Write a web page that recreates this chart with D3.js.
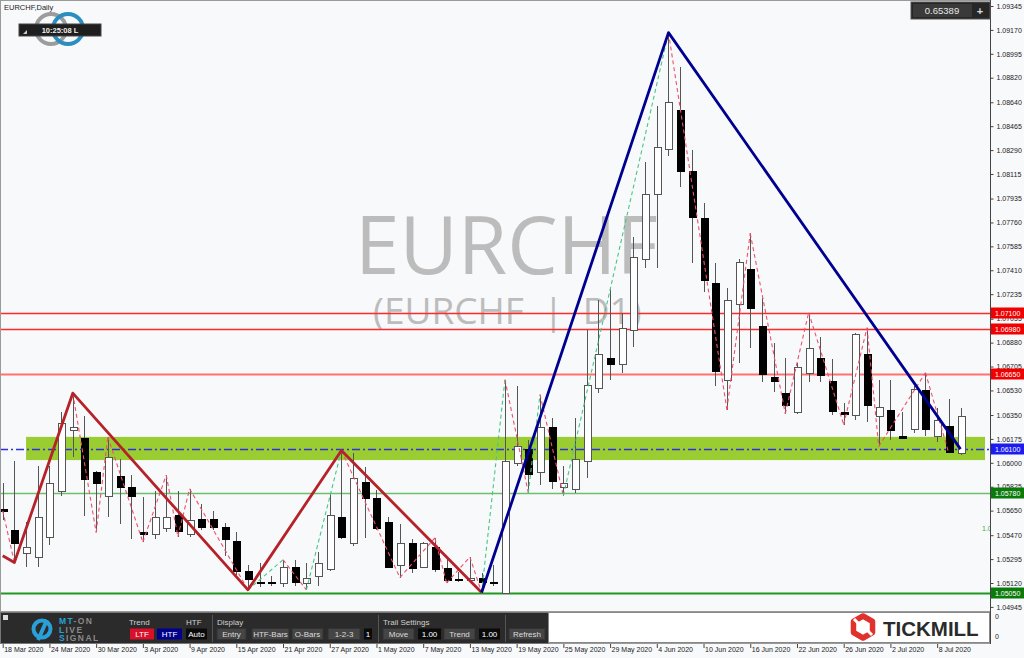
<!DOCTYPE html>
<html><head><meta charset="utf-8">
<script src="https://cdn.jsdelivr.net/npm/d3@7"></script>
<style>
html,body{margin:0;padding:0;background:#f8f9fb;overflow:hidden;}
svg{display:block;font-family:"Liberation Sans",Arial,sans-serif;}
</style></head><body>
<svg id="c" width="1024" height="658"></svg>
<script>
// ---------------- DATA ----------------
const symbol = "EURCHF";
const chartTitle = "EURCHF,Daily";
const watermarkSub = "(EURCHF  |  D1)";
const clockText = "10:25:08 L";
const topValue = "0.65389";
const firstDay = new Date(2020, 2, 18), lastDay = new Date(2020, 6, 10);

const opens = [1.0566,1.0551,1.0534,1.0531,1.0546,1.0579,1.0624,1.0618,1.0593,1.0576,
1.0590,1.0582,1.0549,1.0548,1.0552,1.0562,1.0548,1.0559,1.0559,1.0553,
1.0543,1.0521,1.0513,1.0513,1.0512,1.0524,1.0512,1.0517,1.0522,1.0560,
1.0541,1.0586,1.0574,1.0557,1.0525,1.0541,1.0524,1.0538,1.0523,1.0515,
1.0514,1.0516,1.0513,1.0505,1.0600,1.0610,1.0593,1.0626,1.0582,1.0581,
1.0601,1.0655,1.0677,1.0672,1.0697,1.0749,1.0797,1.0830,1.0858,1.0814,
1.0779,1.0732,1.0661,1.0716,1.0742,1.0700,1.0663,1.0651,1.0637,1.0666,
1.0677,1.0660,1.0637,1.0635,1.0680,1.0634,1.0639,1.0620,1.0625,1.0653,
1.0620,1.0627,1.0607];
const highs = [1.0585,1.0601,1.0557,1.0598,1.0598,1.0637,1.0651,1.0634,1.0594,1.0619,
1.0603,1.0591,1.0575,1.0579,1.0591,1.0579,1.0581,1.0570,1.0565,1.0556,
1.0549,1.0525,1.0527,1.0517,1.0529,1.0529,1.0527,1.0535,1.0578,1.0609,
1.0607,1.0597,1.0580,1.0560,1.0555,1.0544,1.0542,1.0545,1.0530,1.0520,
1.0531,1.0519,1.0525,1.0661,1.0656,1.0617,1.0650,1.0633,1.0598,1.0633,
1.0697,1.0719,1.0727,1.0710,1.0765,1.0820,1.0861,1.0915,1.0890,1.0829,
1.0790,1.0746,1.0728,1.0749,1.0768,1.0721,1.0688,1.0677,1.0673,1.0710,
1.0692,1.0676,1.0644,1.0695,1.0699,1.0661,1.0661,1.0637,1.0656,1.0666,
1.0640,1.0647,1.0640];
const lows = [1.0558,1.0527,1.0524,1.0524,1.0540,1.0576,1.0604,1.0561,1.0549,1.0560,
1.0555,1.0544,1.0542,1.0544,1.0549,1.0546,1.0546,1.0551,1.0551,1.0532,
1.0518,1.0507,1.0509,1.0510,1.0509,1.0510,1.0507,1.0510,1.0521,1.0544,
1.0539,1.0545,1.0551,1.0523,1.0516,1.0519,1.0523,1.0520,1.0512,1.0513,
1.0513,1.0505,1.0510,1.0504,1.0598,1.0578,1.0584,1.0581,1.0576,1.0578,
1.0589,1.0651,1.0661,1.0666,1.0685,1.0743,1.0743,1.0825,1.0802,1.0746,
1.0725,1.0656,1.0639,1.0673,1.0684,1.0659,1.0652,1.0636,1.0636,1.0659,
1.0659,1.0635,1.0628,1.0631,1.0630,1.0612,1.0617,1.0618,1.0622,1.0620,
1.0615,1.0607,1.0606];
const closes = [1.0565,1.0541,1.0538,1.0560,1.0585,1.0629,1.0626,1.0588,1.0585,1.0604,
1.0582,1.0576,1.0548,1.0560,1.0560,1.0550,1.0558,1.0553,1.0553,1.0544,
1.0521,1.0515,1.0512,1.0512,1.0524,1.0513,1.0516,1.0527,1.0562,1.0546,
1.0589,1.0574,1.0552,1.0524,1.0541,1.0523,1.0541,1.0522,1.0514,1.0514,
1.0516,1.0513,1.0512,1.0601,1.0612,1.0592,1.0626,1.0587,1.0585,1.0603,
1.0657,1.0680,1.0672,1.0699,1.0751,1.0797,1.0831,1.0864,1.0814,1.0780,
1.0734,1.0667,1.0719,1.0747,1.0713,1.0665,1.0660,1.0642,1.0670,1.0684,
1.0664,1.0638,1.0636,1.0694,1.0642,1.0641,1.0624,1.0618,1.0654,1.0625,
1.0631,1.0608,1.0634];

const priceTicks = [1.09345,1.09170,1.08995,1.08820,1.08640,1.08465,1.08290,1.08115,1.07935,
1.07760,1.07585,1.07410,1.07235,1.07055,1.06880,1.06705,1.06530,1.06350,1.06175,1.06000,
1.05825,1.05650,1.05470,1.05295,1.05120,1.04945];
const dateLabelStep = 4;

const resistanceLevels = [1.07100, 1.06980, 1.06650];
const pivotLevel = 1.06100;
const supportLevels = [1.05780, 1.05050];
const zonePrices = [1.0602, 1.0619];
const zoneBars = [2, 84.1];

const majorRedBars = [0, 1, 6, 21, 29, 41];
const majorRedPrices = [1.0532, 1.0527, 1.0651, 1.0507, 1.0609, 1.0505];
const majorBlueBars = [41, 57, 82];
const majorBluePrices = [1.0505, 1.0915, 1.0610];
const minorBars = [0,1,6,8,9,12,14,15,16,21,24,26,29,34,37,38,40,41,43,45,46,48,57,62,64,67,69,72,74,75,79,81];
const minorPrices = [1.0565,1.0527,1.0651,1.0549,1.0619,1.0542,1.0591,1.0546,1.0581,1.0507,1.0529,1.0507,1.0609,1.0516,1.0545,1.0512,1.0531,1.0505,1.0661,1.0578,1.0650,1.0576,1.0915,1.0639,1.0768,1.0636,1.0710,1.0628,1.0699,1.0612,1.0666,1.0607];

const panelLabels = [["Trend",129],["HTF",186],["Display",217],["Trail Settings",383]];
const panelButtons = [
 ["LTF",130,154,"red"],["HTF",157,182,"blue"],["Auto",186,207,"black"],
 ["Entry",217,246,"gray"],["HTF-Bars",252,289,"gray"],["O-Bars",292,323,"gray"],
 ["1-2-3",328,360,"gray"],["1",364,372,"black"],["Move",383,414,"gray"],
 ["1.00",418,441,"black"],["Trend",444,475,"gray"],["1.00",479,500,"black"],["Refresh",509,545,"gray"]];

// ---------------- DRAW ----------------
const dates = d3.timeDay.range(firstDay, d3.timeDay.offset(lastDay, 1)).filter(d => d.getDay() !== 0 && d.getDay() !== 6);
const candles = dates.map((d, i) => ({i, d, o: opens[i], h: highs[i], l: lows[i], c: closes[i]}));

const svg = d3.select("#c");
const W = 1024, H = 658, axisX = 990, mainBottom = 611;
const xS = d3.scaleLinear().domain([0, 82]).range([2.7, 960.5]);
const yS = d3.scaleLinear().domain([1.04945, 1.09345]).range([606.9, 6.0]);

svg.append("rect").attr("width", W).attr("height", H).attr("fill", "#f8f9fb");
const defs = svg.append("defs");
defs.append("clipPath").attr("id", "mainClip").append("rect").attr("x", 1).attr("y", 1).attr("width", axisX - 1).attr("height", mainBottom - 1);

const main = svg.append("g").attr("clip-path", "url(#mainClip)");

// watermark (one text element, two lines)
const wm = main.append("text").attr("font-family", "'Open Sans',sans-serif").attr("fill", "#bcbcbc").style("white-space", "pre");
wm.append("tspan").attr("x", 355).attr("y", 274).attr("font-size", 80).text(symbol);
wm.append("tspan").attr("x", 373).attr("y", 324).attr("font-size", 37).text(watermarkSub);

// zone
main.append("rect").attr("x", xS(zoneBars[0])).attr("width", xS(zoneBars[1]) - xS(zoneBars[0]))
  .attr("y", yS(zonePrices[1])).attr("height", yS(zonePrices[0]) - yS(zonePrices[1]))
  .attr("fill", "#9acd32");

// levels
const lvl = main.append("g");
resistanceLevels.forEach((p, k) => {
  const yy = Math.round(yS(p)) + 0.5;
  lvl.append("line").attr("x1", 0).attr("x2", axisX).attr("y1", yy).attr("y2", yy)
    .attr("stroke", k === 2 ? "#ff7070" : "#ff2a2a").attr("stroke-width", k === 2 ? 2 : 1.6);
});
{
  const yy = Math.round(yS(pivotLevel)) + 0.5;
  lvl.append("line").attr("x1", 0).attr("x2", axisX).attr("y1", yy).attr("y2", yy)
    .attr("stroke", "#2f2fe0").attr("stroke-width", 1.3).attr("stroke-dasharray", "8,3,2,3");
}
supportLevels.forEach((p, k) => {
  const yy = Math.round(yS(p)) + 0.5;
  lvl.append("line").attr("x1", 0).attr("x2", axisX).attr("y1", yy).attr("y2", yy)
    .attr("stroke", k === 0 ? "#6cbf6c" : "#1f9a1f").attr("stroke-width", k === 0 ? 1.6 : 2.2);
});

// candles
const cg = main.append("g").attr("shape-rendering", "crispEdges");
const bw = 7;
candles.forEach(c => {
  const cx = Math.round(xS(c.i)) + 0.5;
  const bull = c.c >= c.o;
  cg.append("line").attr("x1", cx).attr("x2", cx).attr("y1", yS(c.h)).attr("y2", yS(c.l))
    .attr("stroke", "#555").attr("stroke-width", 1);
  const top = Math.round(yS(Math.max(c.o, c.c))), bot = Math.round(yS(Math.min(c.o, c.c)));
  const hgt = Math.max(bot - top, 1);
  cg.append("rect").attr("x", cx - bw / 2).attr("y", top + 0.5).attr("width", bw).attr("height", hgt)
    .attr("fill", bull ? "#ffffff" : "#000000").attr("stroke", bull ? "#555" : "#000").attr("stroke-width", 1);
});

// minor zigzag (dashed)
const majorUp = [[1, 6], [21, 29], [41, 57]];
for (let k = 0; k < minorBars.length - 1; k++) {
  const a = minorBars[k], b = minorBars[k + 1];
  const up = minorPrices[k + 1] > minorPrices[k];
  const inUp = majorUp.some(r => a >= r[0] && b <= r[1]);
  main.append("line").attr("x1", xS(a)).attr("y1", yS(minorPrices[k])).attr("x2", xS(b)).attr("y2", yS(minorPrices[k + 1]))
    .attr("stroke", up && inUp ? "#45c882" : "#f0506a").attr("stroke-width", 1.1).attr("stroke-dasharray", "4,3");
}

// major zigzags
const line = d3.line().x(d => xS(d[0])).y(d => yS(d[1]));
main.append("path").attr("d", line(majorRedBars.map((b, k) => [b, majorRedPrices[k]])))
  .attr("fill", "none").attr("stroke", "#b5222a").attr("stroke-width", 2.8).attr("stroke-linejoin", "round");
main.append("path").attr("d", line(majorBlueBars.map((b, k) => [b, majorBluePrices[k]])))
  .attr("fill", "none").attr("stroke", "#000090").attr("stroke-width", 2.8).attr("stroke-linejoin", "round");

// small clipped green label
main.append("text").attr("x", 982).attr("y", 531).attr("font-size", 7).attr("fill", "#4aa84a").text("1.05470");

// frame
const fr = svg.append("g").attr("shape-rendering", "crispEdges").attr("fill", "none");
fr.append("rect").attr("x", 0.5).attr("y", 0.5).attr("width", axisX).attr("height", 643).attr("stroke", "#9a9a9a");
fr.append("line").attr("x1", axisX + 0.5).attr("x2", axisX + 0.5).attr("y1", 0).attr("y2", 644).attr("stroke", "#444");
fr.append("line").attr("x1", 0).attr("x2", axisX).attr("y1", mainBottom + 0.5).attr("y2", mainBottom + 0.5).attr("stroke", "#9a9a9a");

// right axis
const ax = svg.append("g").attr("transform", `translate(${axisX + 0.5},0)`)
  .call(d3.axisRight(yS).tickValues(priceTicks).tickSize(3).tickPadding(3).tickFormat(d3.format(".5f")));
ax.select(".domain").remove();
ax.selectAll("line").attr("stroke", "#444");
ax.selectAll("text").attr("font-size", 7).attr("fill", "#222").attr("font-family", "'Liberation Sans',Arial,sans-serif");

// level tags
function tag(p, col) {
  const yy = Math.round(yS(p));
  svg.append("rect").attr("x", axisX + 1).attr("y", yy - 5.5).attr("width", W - axisX - 1).attr("height", 11).attr("fill", col);
  svg.append("text").attr("x", axisX + 5).attr("y", yy + 2.5).attr("font-size", 7).attr("fill", "#fff").text(d3.format(".5f")(p));
}
resistanceLevels.forEach(p => tag(p, "#f00000"));
tag(pivotLevel, "#1c1cf0");
supportLevels.forEach(p => tag(p, "#0a7a0a"));

// subwindow zero labels
svg.append("text").attr("x", 995).attr("y", 619).attr("font-size", 7).attr("fill", "#222").text("0");
svg.append("text").attr("x", 995).attr("y", 639).attr("font-size", 7).attr("fill", "#222").text("0");

// bottom axis
const fmt = d3.timeFormat("%-d %b %Y");
const labelIdx = d3.range(0, dates.length, dateLabelStep).filter(i => i <= 80);
const bx = svg.append("g").attr("transform", "translate(0,644)")
  .call(d3.axisBottom(xS).tickValues(labelIdx).tickSize(4).tickFormat(i => fmt(dates[i])));
bx.select(".domain").remove();
bx.selectAll("line").attr("stroke", "#444");
bx.selectAll("text").attr("text-anchor", "start").attr("x", 1).attr("y", 3).attr("font-size", 7)
  .attr("fill", "#222").attr("font-family", "'Liberation Sans',Arial,sans-serif");

// top-left title
svg.append("text").attr("x", 4).attr("y", 10).attr("font-size", 7.5).attr("fill", "#222").text(chartTitle);
// logo circles
svg.append("circle").attr("cx", 51).attr("cy", 29).attr("r", 15).attr("fill", "none").attr("stroke", "#9c9c9c").attr("stroke-width", 4);
svg.append("circle").attr("cx", 68).attr("cy", 29).attr("r", 15).attr("fill", "none").attr("stroke", "#2a8fc0").attr("stroke-width", 4);
svg.append("rect").attr("x", 19).attr("y", 24).attr("width", 82).attr("height", 12).attr("fill", "#1e1e1e").attr("stroke", "#444");
svg.append("path").attr("d", "M23,34 L27,30 L27,34 Z").attr("fill", "#ccc");
svg.append("text").attr("x", 60).attr("y", 33).attr("text-anchor", "middle").attr("font-size", 7.5)
  .attr("font-weight", "bold").attr("fill", "#eee").text(clockText);

// top-right value box
svg.append("rect").attr("x", 911).attr("y", 2).attr("width", 79).attr("height", 17).attr("fill", "#262626").attr("stroke", "#555");
svg.append("rect").attr("x", 913).attr("y", 4).attr("width", 59).attr("height", 13).attr("fill", "#3a3a3a");
svg.append("text").attr("x", 942).attr("y", 14).attr("text-anchor", "middle").attr("font-size", 9.5).attr("fill", "#e8e8e8").text(topValue);
svg.append("text").attr("x", 980).attr("y", 14.5).attr("text-anchor", "middle").attr("font-size", 11).attr("font-weight", "bold").attr("fill", "#ddd").text("+");

// bottom panel (dark)
const pg = svg.append("g");
pg.append("rect").attr("x", 0.5).attr("y", 612.5).attr("width", 548).attr("height", 31).attr("fill", "#2b2b2b").attr("stroke", "#777");
pg.append("rect").attr("x", 3).attr("y", 615).attr("width", 5).attr("height", 5).attr("fill", "#ddd");
// MT-ON icon
pg.append("circle").attr("cx", 42).attr("cy", 629).attr("r", 8.5).attr("fill", "none").attr("stroke", "#2aa0d8").attr("stroke-width", 4);
pg.append("line").attr("x1", 38).attr("y1", 640).attr("x2", 47).attr("y2", 620).attr("stroke", "#2aa0d8").attr("stroke-width", 4);
const lg = pg.append("g").attr("font-size", 8.5).attr("font-weight", "bold").attr("letter-spacing", 1.4);
const t1 = lg.append("text").attr("x", 59).attr("y", 624);
t1.append("tspan").attr("fill", "#2aa0d8").text("MT");
t1.append("tspan").attr("fill", "#8a8a8a").text("-ON");
const t2 = lg.append("text").attr("x", 59).attr("y", 632.5);
t2.append("tspan").attr("fill", "#2aa0d8").text("L");
t2.append("tspan").attr("fill", "#8a8a8a").text("IVE");
const t3 = lg.append("text").attr("x", 59).attr("y", 641);
t3.append("tspan").attr("fill", "#2aa0d8").text("S");
t3.append("tspan").attr("fill", "#8a8a8a").text("IGNAL");

panelLabels.forEach(([t, x]) => pg.append("text").attr("x", x).attr("y", 625).attr("font-size", 8).attr("fill", "#d0d0d0").text(t));
[212, 378, 505].forEach(x => pg.append("line").attr("x1", x + 0.5).attr("x2", x + 0.5).attr("y1", 615).attr("y2", 642).attr("stroke", "#555"));
const btnFill = {red: "#d8102a", blue: "#00008c", black: "#0a0a0a", gray: "#454545"};
panelButtons.forEach(([t, x0, x1, c]) => {
  pg.append("rect").attr("x", x0).attr("y", 628.5).attr("width", x1 - x0).attr("height", 11).attr("fill", btnFill[c]).attr("stroke", c === "gray" ? "#333" : "none");
  pg.append("text").attr("x", (x0 + x1) / 2).attr("y", 637).attr("text-anchor", "middle").attr("font-size", 8)
    .attr("fill", c === "gray" ? "#dcdcdc" : "#fff").text(t);
});

// Tickmill box
svg.append("rect").attr("x", 548.5).attr("y", 612.5).attr("width", 441).attr("height", 30).attr("fill", "#fff").attr("stroke", "#888");
const hex = (cx, cy, r) => d3.range(6).map(k => [cx + r * Math.cos(Math.PI / 6 + k * Math.PI / 3), cy + r * Math.sin(Math.PI / 6 + k * Math.PI / 3)]);
svg.append("path").attr("d", "M" + hex(863, 627, 11).join("L") + "Z").attr("fill", "none").attr("stroke", "#e0312d").attr("stroke-width", 5.5).attr("stroke-linejoin", "round");
svg.append("line").attr("x1", 854).attr("y1", 619).attr("x2", 859).attr("y2", 624).attr("stroke", "#fff").attr("stroke-width", 3);
svg.append("line").attr("x1", 867).attr("y1", 630).attr("x2", 872).attr("y2", 635).attr("stroke", "#fff").attr("stroke-width", 3);
svg.append("text").attr("x", 883).attr("y", 636).attr("font-size", 20.5).attr("font-weight", "bold").attr("fill", "#2b2b2b").text("TICKMILL");
</script>
</body></html>
